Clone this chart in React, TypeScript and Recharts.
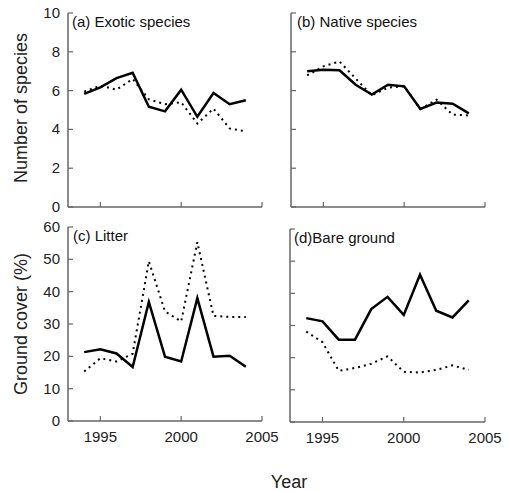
import React from 'react';
import { LineChart, Line, XAxis, YAxis } from 'recharts';

const years = [1994, 1995, 1996, 1997, 1998, 1999, 2000, 2001, 2002, 2003, 2004];
const exoticSolid = [5.83, 6.17, 6.64, 6.92, 5.17, 4.93, 6.05, 4.65, 5.88, 5.3, 5.5];
const exoticDotted = [5.95, 6.25, 6.05, 6.6, 5.55, 5.3, 5.4, 4.3, 5.07, 4.05, 3.9];
const nativeSolid = [7.0, 7.08, 7.05, 6.3, 5.8, 6.3, 6.22, 5.05, 5.38, 5.32, 4.83];
const nativeDotted = [6.78, 7.25, 7.5, 6.62, 5.76, 6.15, 6.22, 5.05, 5.53, 4.76, 4.72];
const litterSolid = [21.3, 22.2, 20.9, 16.7, 36.8, 19.9, 18.4, 38.0, 19.9, 20.2, 16.8];
const litterDotted = [15.3, 19.4, 18.4, 20.8, 49.4, 33.9, 30.8, 55.3, 32.5, 32.2, 32.2];
const bareSolid = [32.3, 31.3, 25.6, 25.6, 35.1, 38.9, 33.3, 45.8, 34.6, 32.5, 37.8];
const bareDotted = [28.1, 24.8, 15.9, 16.8, 18.1, 20.4, 15.6, 15.4, 16.2, 17.6, 16.2];

const xTicks = [1995, 2000, 2005];
const speciesTicks = [0, 2, 4, 6, 8, 10];
const coverTicks = [0, 10, 20, 30, 40, 50, 60];

const titles = ['(a) Exotic species', '(b) Native species', '(c) Litter', '(d)Bare ground'];
const yLabels = ['Number of species', 'Ground cover (%)'];
const xLabel = 'Year';

const FONT = '"Liberation Sans", Arial, sans-serif';
const AXIS = '#666';
const TXT = '#222';

function build(a: number[], b: number[]) {
  return years.map((y, i) => ({ year: y, solid: a[i], dotted: b[i] }));
}

type PanelProps = {
  data: any[];
  left: number;
  top: number;
  w: number;
  h: number;
  yMax: number;
  yTicks: number[];
  showY: boolean;
  showX: boolean;
};

function Panel({ data, left, top, w, h, yMax, yTicks, showY, showX }: PanelProps) {
  const ml = 50, mt = 12, mr = 25, mb = 30;
  const yTick = (p: any) => (
    <g>
      <line x1={p.x} y1={p.y} x2={p.x + 5} y2={p.y} stroke={AXIS} strokeWidth={1.2} />
      {showY && (
        <text x={p.x - 8} y={p.y} dy={5} textAnchor="end" fontSize={15} fontFamily={FONT} fill={TXT}>
          {p.payload.value}
        </text>
      )}
    </g>
  );
  const xTick = (p: any) => (
    <g>
      <line x1={p.x} y1={p.y} x2={p.x} y2={p.y - 5} stroke={AXIS} strokeWidth={1.2} />
      {showX && (
        <text x={p.x} y={p.y + 21} textAnchor="middle" fontSize={15} fontFamily={FONT} fill={TXT}>
          {p.payload.value}
        </text>
      )}
    </g>
  );
  return (
    <div style={{ position: 'absolute', left: left - ml, top: top - mt }}>
      <LineChart width={w + ml + mr} height={h + mt + mb} data={data} margin={{ top: mt, right: mr, left: 0, bottom: 0 }}>
        <XAxis
          dataKey="year"
          type="number"
          domain={[1993, 2005]}
          ticks={xTicks}
          height={mb}
          tickSize={0}
          tickMargin={0}
          tickLine={false}
          tick={xTick}
          axisLine={{ stroke: AXIS, strokeWidth: 1.5 }}
          interval={0}
        />
        <YAxis
          type="number"
          domain={[0, yMax]}
          ticks={yTicks}
          width={ml}
          tickSize={0}
          tickMargin={0}
          tickLine={false}
          tick={yTick}
          axisLine={{ stroke: AXIS, strokeWidth: 1.5 }}
          interval={0}
        />
        <Line dataKey="dotted" stroke="#000" strokeWidth={2} strokeDasharray="2 4" dot={false} isAnimationActive={false} />
        <Line dataKey="solid" stroke="#000" strokeWidth={2.5} dot={false} isAnimationActive={false} />
      </LineChart>
    </div>
  );
}

export default function App() {
  return (
    <div style={{ position: 'absolute', left: 0, top: 0, width: 509, height: 491, background: '#fff' }}>
      <Panel data={build(exoticSolid, exoticDotted)} left={68} top={13} w={194} h={194} yMax={10} yTicks={speciesTicks} showY showX={false} />
      <Panel data={build(nativeSolid, nativeDotted)} left={291} top={13} w={194} h={194} yMax={10} yTicks={speciesTicks} showY={false} showX={false} />
      <Panel data={build(litterSolid, litterDotted)} left={68} top={227} w={194} h={194} yMax={60} yTicks={coverTicks} showY showX />
      <Panel data={build(bareSolid, bareDotted)} left={290} top={229} w={195} h={193} yMax={60} yTicks={coverTicks} showY={false} showX />
      <svg width={509} height={491} style={{ position: 'absolute', left: 0, top: 0, pointerEvents: 'none' }}>
        <g fontFamily={FONT} fill="#111">
          <text x={72} y={27} fontSize={15}>{titles[0]}</text>
          <text x={297} y={27} fontSize={15}>{titles[1]}</text>
          <text x={73} y={241} fontSize={15}>{titles[2]}</text>
          <text x={294} y={243} fontSize={15}>{titles[3]}</text>
          <text x={27} y={108} fontSize={18} textAnchor="middle" transform="rotate(-90 27 108)" fill={TXT}>{yLabels[0]}</text>
          <text x={27} y={324} fontSize={18} textAnchor="middle" transform="rotate(-90 27 324)" fill={TXT}>{yLabels[1]}</text>
          <text x={289} y={488} fontSize={18} textAnchor="middle" fill={TXT}>{xLabel}</text>
        </g>
      </svg>
    </div>
  );
}
